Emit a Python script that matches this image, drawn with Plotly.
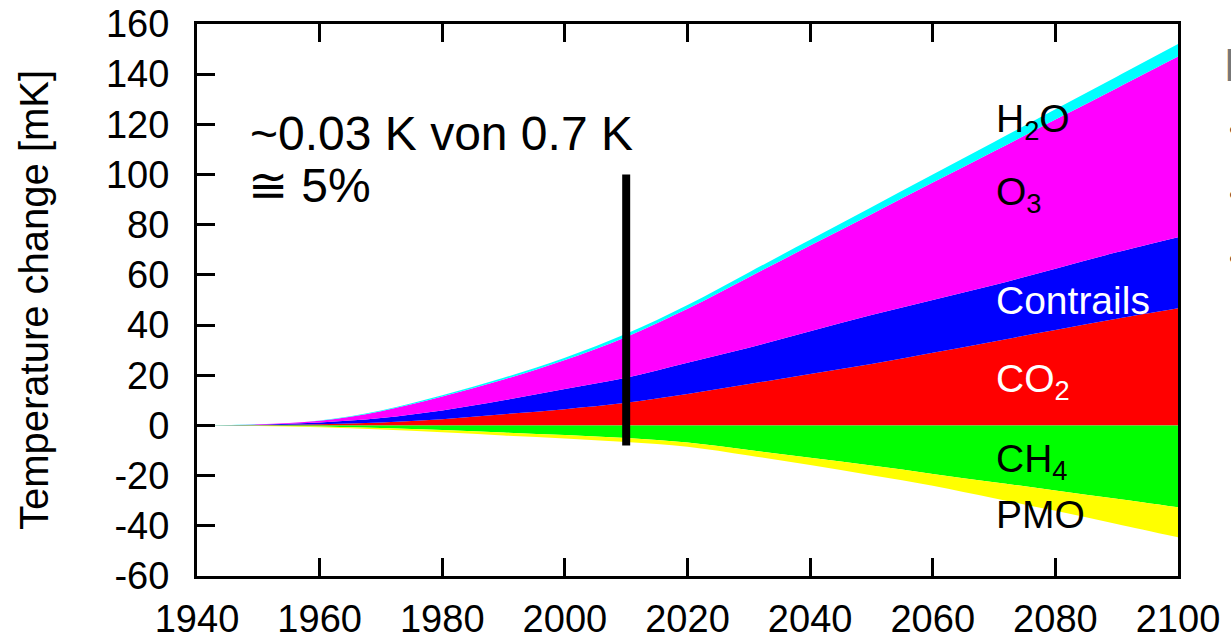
import plotly.graph_objects as go

years = [1940, 1950, 1960, 1970, 1980, 1990, 2000, 2010, 2020, 2030, 2040, 2050, 2060, 2070, 2080, 2090, 2100]
co2 = [0, 0.1, 0.5, 1.2, 2.5, 4.5, 6.5, 9, 12.5, 16.5, 20.5, 24.5, 29, 33.5, 38, 42.5, 46.7]
contrails = [0, 0.2, 0.7, 1.8, 3.5, 5.5, 8, 10, 12.5, 14.5, 17, 19.5, 21, 22.5, 24.5, 26.5, 28.3]
o3 = [0, 0.15, 0.65, 2.7, 5.5, 8.3, 11.6, 16.3, 21.5, 28.1, 34.2, 40.2, 46.8, 53.3, 59.4, 65.4, 72]
h2o = [0, 0.05, 0.15, 0.3, 0.5, 0.7, 0.9, 1.2, 1.5, 1.9, 2.3, 2.8, 3.2, 3.7, 4.1, 4.6, 5]
ch4 = [0, -0.1, -0.4, -1, -1.8, -2.8, -3.8, -5, -6.8, -9.8, -12.9, -16, -19.3, -22.6, -25.9, -29.2, -32.6]
pmo = [0, -0.1, -0.3, -0.6, -0.9, -1.2, -1.4, -1.6, -1.7, -2.2, -2.9, -3.8, -4.7, -6.4, -8.1, -10.1, -12]

x_ticks = [1940, 1960, 1980, 2000, 2020, 2040, 2060, 2080, 2100]
x_tick_labels = ["1940", "1960", "1980", "2000", "2020", "2040", "2060", "2080", "2100"]
y_ticks = [-60, -40, -20, 0, 20, 40, 60, 80, 100, 120, 140, 160]
y_tick_labels = ["-60", "-40", "-20", "0", "20", "40", "60", "80", "100", "120", "140", "160"]

marker_year = 2010
marker_range = [-8, 100]

FONT = "Liberation Sans, Arial, sans-serif"

fig = go.Figure()
pos = [("CO<sub>2</sub>", co2, "#FF0000"),
       ("Contrails", contrails, "#0000FF"),
       ("O<sub>3</sub>", o3, "#FF00FF"),
       ("H<sub>2</sub>O", h2o, "#00FFFF")]
for name, vals, col in pos:
    fig.add_trace(go.Scatter(x=years, y=vals, name=name, stackgroup="pos",
                             mode="lines", line=dict(width=0, shape="spline", color=col),
                             fillcolor=col, showlegend=False))
neg = [("CH<sub>4</sub>", ch4, "#00FF00"), ("PMO", pmo, "#FFFF00")]
for name, vals, col in neg:
    fig.add_trace(go.Scatter(x=years, y=vals, name=name, stackgroup="neg",
                             mode="lines", line=dict(width=0, shape="spline", color=col),
                             fillcolor=col, showlegend=False))

fig.add_shape(type="line", x0=marker_year, x1=marker_year, y0=marker_range[0], y1=marker_range[1],
              xref="x", yref="y", line=dict(color="black", width=8))

labels = [("H<sub>2</sub>O", 121, "black"), ("O<sub>3</sub>", 92, "black"),
          ("Contrails", 50, "white"), ("CO<sub>2</sub>", 17.5, "white"),
          ("CH<sub>4</sub>", -14.5, "black"), ("PMO", -35.5, "black")]
for txt, yv, col in labels:
    fig.add_annotation(x=2070, y=yv, text=txt, showarrow=False, xanchor="left", yanchor="middle",
                       font=dict(family=FONT, size=39, color=col))

fig.add_annotation(x=1948.3, y=116.5, text="~0.03 K von 0.7 K", showarrow=False,
                   xanchor="left", yanchor="middle", font=dict(family=FONT, size=48, color="black"))
fig.add_annotation(x=1948.0, y=95.8, text="\u2245 5%", showarrow=False,
                   xanchor="left", yanchor="middle", font=dict(family=FONT, size=48, color="black"))

# partially visible slide text at the right edge
fig.add_annotation(xref="paper", yref="paper", x=1.045, y=0.926, text="E", showarrow=False,
                   xanchor="left", yanchor="middle", font=dict(family=FONT, size=46, color="#777777"))
for yp in [0.808, 0.692, 0.576]:
    fig.add_annotation(xref="paper", yref="paper", x=1.050, y=yp, text="\u2022", showarrow=False,
                       xanchor="left", yanchor="middle", font=dict(family=FONT, size=30, color="#333333"))

fig.update_layout(
    width=1231, height=638,
    margin=dict(l=197, r=53, t=24, b=62),
    paper_bgcolor="white", plot_bgcolor="white",
    font=dict(family=FONT, size=38, color="black"),
    showlegend=False,
)
fig.update_xaxes(range=[1940, 2100], tickvals=x_ticks, ticktext=x_tick_labels,
                 ticks="inside", ticklen=18, tickwidth=3,
                 tickcolor="black", showline=True, linecolor="black", linewidth=3, mirror="ticks",
                 showgrid=False, zeroline=False, ticklabelstandoff=7, automargin=False,
                 tickfont=dict(family=FONT, size=38, color="black"))
fig.update_yaxes(range=[-60, 160], tickvals=y_ticks, ticktext=y_tick_labels,
                 ticks="inside", ticklen=18, tickwidth=3,
                 tickcolor="black", showline=True, linecolor="black", linewidth=3, mirror=True,
                 showgrid=False, zeroline=False, ticklabelstandoff=17, automargin=False,
                 tickfont=dict(family=FONT, size=38, color="black"),
                 title=dict(text="Temperature change [mK]", standoff=45,
                            font=dict(family=FONT, size=40, color="black")))

fig.write_html("out.html", config={"displayModeBar": False},
               post_script="document.body.style.margin='0px';")
